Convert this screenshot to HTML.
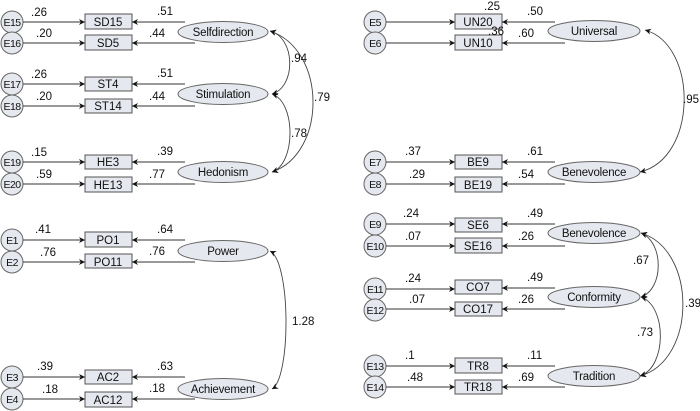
<!DOCTYPE html>
<html><head><meta charset="utf-8"><style>
html,body{margin:0;padding:0;background:#fff;}
svg{display:block;}
text{font-family:"Liberation Sans",sans-serif;font-size:11.5px;fill:#111;}
circle+text{font-size:10.5px;letter-spacing:-0.6px;}
ellipse+text{letter-spacing:-0.2px;}
.e{fill:#e6e8ef;stroke:#666;stroke-width:1;}
.b{fill:#e6e8ef;stroke:#555;stroke-width:1;}
.l{stroke:#333;stroke-width:1;fill:none;}
.c{stroke:#444;stroke-width:0.9;fill:none;}
</style></head><body>
<svg width="700" height="411" viewBox="0 0 700 411" xmlns="http://www.w3.org/2000/svg">
<defs>
<marker id="a" viewBox="0 0 10 10" refX="10" refY="5" markerWidth="8" markerHeight="6" orient="auto-start-reverse" markerUnits="userSpaceOnUse"><path d="M0,0 L10,5 L0,10 L3,5 z" fill="#111"/></marker>
</defs>

<g id="left">
<g>
<circle class="e" cx="12" cy="22" r="11"/><text x="12" y="26" text-anchor="middle">E15</text>
<line class="l" x1="23" y1="22" x2="85" y2="22" marker-end="url(#a)"/><text x="31" y="16">.26</text>
<rect class="b" x="85" y="14" width="47" height="15"/><text x="108" y="26" text-anchor="middle">SD15</text>
<line class="l" x1="185" y1="22" x2="132" y2="22" marker-end="url(#a)"/><text x="157" y="15">.51</text>
<circle class="e" cx="12" cy="43" r="11"/><text x="12" y="47" text-anchor="middle">E16</text>
<line class="l" x1="23" y1="43" x2="85" y2="43" marker-end="url(#a)"/><text x="36" y="37">.20</text>
<rect class="b" x="85" y="35" width="47" height="15"/><text x="108" y="47" text-anchor="middle">SD5</text>
<line class="l" x1="195" y1="43" x2="132" y2="43" marker-end="url(#a)"/><text x="149" y="37">.44</text>
<ellipse class="e" cx="223" cy="32" rx="45" ry="10.5"/><text x="223" y="36" text-anchor="middle">Selfdirection</text>
</g>
<g>
<circle class="e" cx="12" cy="84" r="11"/><text x="12" y="88" text-anchor="middle">E17</text>
<line class="l" x1="23" y1="84" x2="85" y2="84" marker-end="url(#a)"/><text x="31" y="78">.26</text>
<rect class="b" x="85" y="77" width="47" height="14"/><text x="108" y="88" text-anchor="middle">ST4</text>
<line class="l" x1="185" y1="84" x2="132" y2="84" marker-end="url(#a)"/><text x="157" y="77">.51</text>
<circle class="e" cx="12" cy="106" r="11"/><text x="12" y="110" text-anchor="middle">E18</text>
<line class="l" x1="23" y1="106" x2="85" y2="106" marker-end="url(#a)"/><text x="36" y="100">.20</text>
<rect class="b" x="85" y="99" width="47" height="14"/><text x="108" y="110" text-anchor="middle">ST14</text>
<line class="l" x1="195" y1="106" x2="132" y2="106" marker-end="url(#a)"/><text x="149" y="100">.44</text>
<ellipse class="e" cx="223" cy="94" rx="45" ry="10.5"/><text x="223" y="98" text-anchor="middle">Stimulation</text>
</g>
<g>
<circle class="e" cx="12" cy="162" r="11"/><text x="12" y="166" text-anchor="middle">E19</text>
<line class="l" x1="23" y1="162" x2="85" y2="162" marker-end="url(#a)"/><text x="31" y="156">.15</text>
<rect class="b" x="85" y="155" width="47" height="14"/><text x="108" y="166" text-anchor="middle">HE3</text>
<line class="l" x1="185" y1="162" x2="132" y2="162" marker-end="url(#a)"/><text x="157" y="155">.39</text>
<circle class="e" cx="12" cy="184" r="11"/><text x="12" y="188" text-anchor="middle">E20</text>
<line class="l" x1="23" y1="184" x2="85" y2="184" marker-end="url(#a)"/><text x="36" y="178">.59</text>
<rect class="b" x="85" y="177" width="47" height="15"/><text x="108" y="189" text-anchor="middle">HE13</text>
<line class="l" x1="195" y1="184" x2="132" y2="184" marker-end="url(#a)"/><text x="149" y="178">.77</text>
<ellipse class="e" cx="223" cy="172" rx="45" ry="10.5"/><text x="223" y="176" text-anchor="middle">Hedonism</text>
</g>
<g>
<circle class="e" cx="12" cy="240" r="11"/><text x="12" y="244" text-anchor="middle">E1</text>
<line class="l" x1="23" y1="240" x2="85" y2="240" marker-end="url(#a)"/><text x="35" y="233">.41</text>
<rect class="b" x="85" y="232" width="47" height="15"/><text x="108" y="244" text-anchor="middle">PO1</text>
<line class="l" x1="185" y1="240" x2="132" y2="240" marker-end="url(#a)"/><text x="157" y="233">.64</text>
<circle class="e" cx="12" cy="262" r="11"/><text x="12" y="266" text-anchor="middle">E2</text>
<line class="l" x1="23" y1="262" x2="85" y2="262" marker-end="url(#a)"/><text x="40" y="256">.76</text>
<rect class="b" x="85" y="254" width="47" height="14"/><text x="108" y="266" text-anchor="middle">PO11</text>
<line class="l" x1="195" y1="262" x2="132" y2="262" marker-end="url(#a)"/><text x="149" y="255">.76</text>
<ellipse class="e" cx="223" cy="251" rx="45" ry="10.5"/><text x="223" y="255" text-anchor="middle">Power</text>
</g>
<g>
<circle class="e" cx="12" cy="377" r="11"/><text x="12" y="381" text-anchor="middle">E3</text>
<line class="l" x1="23" y1="377" x2="85" y2="377" marker-end="url(#a)"/><text x="37" y="370">.39</text>
<rect class="b" x="85" y="370" width="47" height="14"/><text x="108" y="381" text-anchor="middle">AC2</text>
<line class="l" x1="185" y1="377" x2="132" y2="377" marker-end="url(#a)"/><text x="157" y="370">.63</text>
<circle class="e" cx="12" cy="399" r="11"/><text x="12" y="403" text-anchor="middle">E4</text>
<line class="l" x1="23" y1="399" x2="85" y2="399" marker-end="url(#a)"/><text x="42" y="393">.18</text>
<rect class="b" x="85" y="392" width="47" height="15"/><text x="108" y="404" text-anchor="middle">AC12</text>
<line class="l" x1="195" y1="399" x2="132" y2="399" marker-end="url(#a)"/><text x="149" y="392">.18</text>
<ellipse class="e" cx="223" cy="389" rx="45" ry="10.5"/><text x="223" y="393" text-anchor="middle">Achievement</text>
</g>
<path class="c" d="M270,31 C296,38 296,87 272,94" marker-start="url(#a)" marker-end="url(#a)"/>
<path class="c" d="M270,31 C327,50 327,153 272,172" marker-start="url(#a)" marker-end="url(#a)"/>
<path class="c" d="M272,94 C296,102 296,164 272,172" marker-start="url(#a)" marker-end="url(#a)"/>
<path class="c" d="M270,251 C291,262 291,378 272,389" marker-start="url(#a)" marker-end="url(#a)"/>
<text x="291" y="62">.94</text>
<text x="314" y="101">.79</text>
<text x="291" y="137">.78</text>
<text x="292" y="325">1.28</text>
</g>

<g>
<circle class="e" cx="375" cy="22" r="11"/><text x="375" y="26" text-anchor="middle">E5</text>
<line class="l" x1="386" y1="22" x2="455" y2="22" marker-end="url(#a)"/>
<rect class="b" x="455" y="14" width="47" height="15"/><text x="478" y="26" text-anchor="middle">UN20</text>
<text x="492" y="10" text-anchor="middle">.25</text>
<line class="l" x1="555" y1="22" x2="502" y2="22" marker-end="url(#a)"/><text x="527" y="15">.50</text>
<circle class="e" cx="375" cy="43" r="11"/><text x="375" y="47" text-anchor="middle">E6</text>
<line class="l" x1="386" y1="43" x2="455" y2="43" marker-end="url(#a)"/>
<rect class="b" x="455" y="35" width="47" height="15"/><text x="478" y="47" text-anchor="middle">UN10</text>
<text x="496" y="35" text-anchor="middle">.36</text>
<line class="l" x1="565" y1="43" x2="502" y2="43" marker-end="url(#a)"/><text x="518" y="37">.60</text>
<ellipse class="e" cx="594" cy="31" rx="46" ry="10.5"/><text x="594" y="35" text-anchor="middle">Universal</text>
</g>
<g>
<circle class="e" cx="375" cy="162" r="11"/><text x="375" y="166" text-anchor="middle">E7</text>
<line class="l" x1="386" y1="162" x2="455" y2="162" marker-end="url(#a)"/><text x="405" y="155">.37</text>
<rect class="b" x="455" y="155" width="47" height="14"/><text x="478" y="166" text-anchor="middle">BE9</text>
<line class="l" x1="555" y1="162" x2="502" y2="162" marker-end="url(#a)"/><text x="527" y="155">.61</text>
<circle class="e" cx="375" cy="184" r="11"/><text x="375" y="188" text-anchor="middle">E8</text>
<line class="l" x1="386" y1="184" x2="455" y2="184" marker-end="url(#a)"/><text x="409" y="178">.29</text>
<rect class="b" x="455" y="177" width="47" height="15"/><text x="478" y="189" text-anchor="middle">BE19</text>
<line class="l" x1="565" y1="184" x2="502" y2="184" marker-end="url(#a)"/><text x="518" y="178">.54</text>
<ellipse class="e" cx="594" cy="172" rx="46" ry="10.5"/><text x="594" y="176" text-anchor="middle">Benevolence</text>
</g>
<g>
<circle class="e" cx="375" cy="224" r="11"/><text x="375" y="228" text-anchor="middle">E9</text>
<line class="l" x1="386" y1="224" x2="455" y2="224" marker-end="url(#a)"/><text x="403" y="217">.24</text>
<rect class="b" x="455" y="218" width="47" height="14"/><text x="478" y="229" text-anchor="middle">SE6</text>
<line class="l" x1="555" y1="224" x2="502" y2="224" marker-end="url(#a)"/><text x="527" y="217">.49</text>
<circle class="e" cx="375" cy="246" r="11"/><text x="375" y="250" text-anchor="middle">E10</text>
<line class="l" x1="386" y1="246" x2="455" y2="246" marker-end="url(#a)"/><text x="405" y="240">.07</text>
<rect class="b" x="455" y="238" width="47" height="15"/><text x="478" y="250" text-anchor="middle">SE16</text>
<line class="l" x1="565" y1="246" x2="502" y2="246" marker-end="url(#a)"/><text x="518" y="240">.26</text>
<ellipse class="e" cx="594" cy="233" rx="46" ry="10.5"/><text x="594" y="237" text-anchor="middle">Benevolence</text>
</g>
<g>
<circle class="e" cx="375" cy="289" r="11"/><text x="375" y="293" text-anchor="middle">E11</text>
<line class="l" x1="386" y1="289" x2="455" y2="289" marker-end="url(#a)"/><text x="405" y="282">.24</text>
<rect class="b" x="455" y="280" width="47" height="14"/><text x="478" y="291" text-anchor="middle">CO7</text>
<line class="l" x1="555" y1="288" x2="502" y2="288" marker-end="url(#a)"/><text x="527" y="281">.49</text>
<circle class="e" cx="375" cy="310" r="11"/><text x="375" y="314" text-anchor="middle">E12</text>
<line class="l" x1="386" y1="309" x2="455" y2="309" marker-end="url(#a)"/><text x="409" y="303">.07</text>
<rect class="b" x="455" y="302" width="47" height="14"/><text x="478" y="313" text-anchor="middle">CO17</text>
<line class="l" x1="565" y1="309" x2="502" y2="309" marker-end="url(#a)"/><text x="518" y="303">.26</text>
<ellipse class="e" cx="594" cy="297" rx="46" ry="10.5"/><text x="594" y="301" text-anchor="middle">Conformity</text>
</g>
<g>
<circle class="e" cx="375" cy="366" r="11"/><text x="375" y="370" text-anchor="middle">E13</text>
<line class="l" x1="386" y1="366" x2="455" y2="366" marker-end="url(#a)"/><text x="405" y="359">.1</text>
<rect class="b" x="455" y="358" width="47" height="15"/><text x="478" y="370" text-anchor="middle">TR8</text>
<line class="l" x1="555" y1="366" x2="502" y2="366" marker-end="url(#a)"/><text x="527" y="359">.11</text>
<circle class="e" cx="375" cy="387" r="11"/><text x="375" y="391" text-anchor="middle">E14</text>
<line class="l" x1="386" y1="387" x2="455" y2="387" marker-end="url(#a)"/><text x="407" y="381">.48</text>
<rect class="b" x="455" y="380" width="47" height="14"/><text x="478" y="391" text-anchor="middle">TR18</text>
<line class="l" x1="565" y1="387" x2="502" y2="387" marker-end="url(#a)"/><text x="518" y="381">.69</text>
<ellipse class="e" cx="594" cy="376" rx="46" ry="10.5"/><text x="594" y="380" text-anchor="middle">Tradition</text>
</g>
<path class="c" d="M645,30 C698,45 698,158 640,172" marker-start="url(#a)" marker-end="url(#a)"/>
<path class="c" d="M641,233 C664,242 664,289 641,297" marker-start="url(#a)" marker-end="url(#a)"/>
<path class="c" d="M641,233 C697,250 697,360 640,376" marker-start="url(#a)" marker-end="url(#a)"/>
<path class="c" d="M641,297 C667,306 667,367 640,376" marker-start="url(#a)" marker-end="url(#a)"/>
<text x="683" y="103">.95</text>
<text x="633" y="264">.67</text>
<text x="685" y="307">.39</text>
<text x="637" y="336">.73</text>
</svg>
</body></html>
